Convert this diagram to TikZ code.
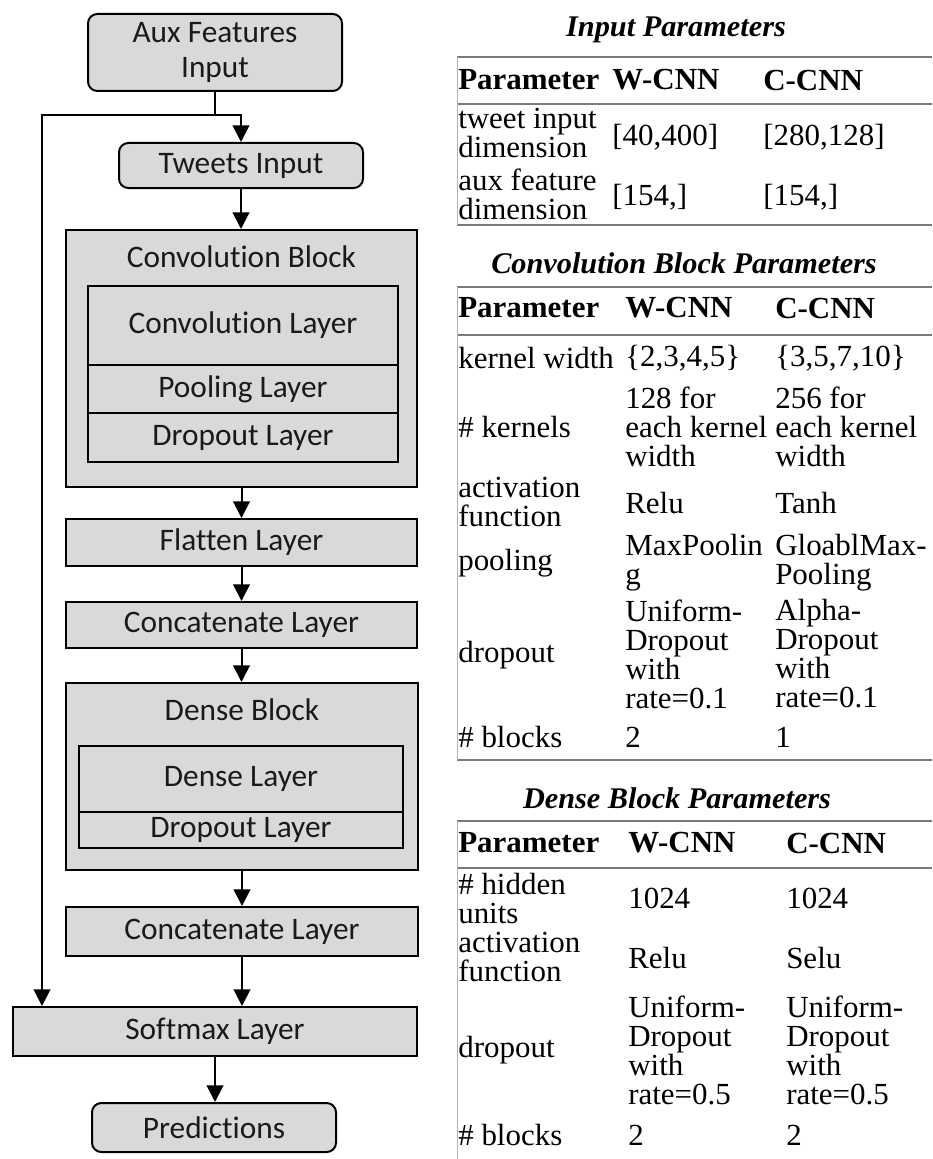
\documentclass[tikz,border=0pt]{standalone}
\usepackage{fontspec}
\setmainfont{Carlito}[Ligatures=NoCommon]
\newfontfamily\tnr[FakeStretch=1.01]{Liberation Serif}
\usetikzlibrary{arrows.meta}
\definecolor{boxgray}{HTML}{D9D9D9}
\definecolor{rulegray}{HTML}{7A7A7A}
\definecolor{bordergray}{HTML}{B4B4B4}
\definecolor{txt}{HTML}{1A1A1A}
\begin{document}
\begin{tikzpicture}[x=0.75pt,y=-0.75pt,
  box/.style={draw=black, line width=1.5pt, fill=boxgray, inner sep=0, text=txt,
    font=\fontsize{23.5}{26.25}\selectfont, align=center},
  rbox/.style={box, rounded corners=7pt},
  lbl/.style={inner sep=0, text=txt, font=\fontsize{23.5}{26}\selectfont},
  arr/.style={line width=1.5pt, -{Triangle[length=12.5pt,width=12.5pt]}},
  ln/.style={line width=1.5pt},
  cell/.style={inner sep=0, anchor=west, align=left, font=\tnr\fontsize{23}{21.75}\selectfont},
  hcell/.style={inner sep=0, anchor=west, font=\tnr\bfseries\fontsize{23}{21.75}\selectfont},
  ttl/.style={inner sep=0, font=\tnr\bfseries\itshape\fontsize{22.5}{24}\selectfont},
  rulel/.style={draw=rulegray, line width=1.6pt},
  vborder/.style={draw=bordergray, line width=0.8pt}
]
\fill[white] (0,0) rectangle (932,1159);
\useasboundingbox (0,0) rectangle (932,1159);

% ---------------- left flow diagram ----------------
\node[rbox, minimum width=190.5pt, minimum height=57.75pt] (aux) at (215,52.5) {Aux Features\\Input};
\node[rbox, minimum width=183pt, minimum height=33.75pt] (tweets) at (241,165.5) {Tweets Input};

\node[box, minimum width=263.25pt, minimum height=192.75pt] (conv) at (241.5,358.5) {};
\node[lbl] (convt) at (241.5,257) {Convolution Block};
\node[box, minimum width=232.5pt, minimum height=59.25pt] (convl) at (243,325.5) {Convolution Layer};
\node[box, minimum width=232.5pt, minimum height=36pt] (pool) at (243,389) {Pooling Layer};
\node[box, minimum width=232.5pt, minimum height=36.75pt] (cdrop) at (243,437.5) {Dropout Layer};

\node[box, minimum width=263.25pt, minimum height=35.25pt] (flat) at (241.5,542.5) {Flatten Layer};
\node[box, minimum width=263.25pt, minimum height=34.5pt] (cat1) at (241.5,625) {Concatenate Layer};

\node[box, minimum width=264pt, minimum height=140.25pt] (dense) at (242,776.5) {};
\node[lbl] (denset) at (242,710) {Dense Block};
\node[box, minimum width=243pt, minimum height=49.5pt] (densel) at (241,779) {Dense Layer};
\node[box, minimum width=243pt, minimum height=27pt] (ddrop) at (241,830) {Dropout Layer};

\node[box, minimum width=264pt, minimum height=36.75pt] (cat2) at (242,931.5) {Concatenate Layer};
\node[box, minimum width=303pt, minimum height=36.75pt] (soft) at (215,1031.5) {Softmax Layer};
\node[rbox, minimum width=183pt, minimum height=36.75pt] (pred) at (214,1127.5) {Predictions};

\coordinate (split) at (215,115);
\coordinate (corner) at (42,115);
\draw[arr] (aux.south) -- (split) -| (tweets.north);
\draw[arr] (split) -- (corner) -- (corner |- soft.north);
\draw[arr] (tweets.south) -- (tweets.south |- conv.north);
\draw[arr] (conv.south) -- (conv.south |- flat.north);
\draw[arr] (flat.south) -- (flat.south |- cat1.north);
\draw[arr] (cat1.south) -- (cat1.south |- dense.north);
\draw[arr] (dense.south) -- (dense.south |- cat2.north);
\draw[arr] (cat2.south) -- (cat2.south |- soft.north);
\draw[arr] (soft.south) -- (soft.south |- pred.north);

% ---------------- Input Parameters table ----------------
\node[ttl] (t1) at (676,30) {Input Parameters};
\draw[rulel] (457,57) -- (932,57);
\draw[rulel] (457,104) -- (932,104);
\draw[rulel] (457,225) -- (932,225);
\draw[vborder] (457.5,57) -- (457.5,225);
\node[hcell] (h1a) at (458,80) {Parameter};
\node[hcell] (h1b) at (612,80) {W-CNN};
\node[hcell] (h1c) at (763,80) {C-CNN};
\node[cell] (r1a) at (458,133) {tweet input\\dimension};
\node[cell] (r1b) at (612,137) {[40,400]};
\node[cell] (r1c) at (763,137) {[280,128]};
\node[cell] (r2a) at (458,194) {aux feature\\dimension};
\node[cell] (r2b) at (612,197) {[154,]};
\node[cell] (r2c) at (763,197) {[154,]};

% ---------------- Convolution Block Parameters table ----------------
\node[ttl] (t2) at (684,263) {Convolution Block Parameters};
\draw[rulel] (457,287) -- (932,287);
\draw[rulel] (457,335) -- (932,335);
\draw[rulel] (457,760) -- (932,760);
\draw[vborder] (457.5,287) -- (457.5,760);
\node[hcell] (h2a) at (458,308) {Parameter};
\node[hcell] (h2b) at (625,308) {W-CNN};
\node[hcell] (h2c) at (775,308) {C-CNN};
\node[cell] (c1a) at (458,358) {kernel width};
\node[cell] (c1b) at (625,358) {\{2,3,4,5\}};
\node[cell] (c1c) at (775,358) {\{3,5,7,10\}};
\node[cell] (c2a) at (458,427) {\# kernels};
\node[cell] (c2b) at (625,427) {128 for\\each kernel\\width};
\node[cell] (c2c) at (775,427) {256 for\\each kernel\\width};
\node[cell] (c3a) at (458,502) {activation\\function};
\node[cell] (c3b) at (625,503) {Relu};
\node[cell] (c3c) at (775,503) {Tanh};
\node[cell] (c4a) at (458,563) {pooling};
\node[cell] (c4b) at (625,563) {MaxPoolin\\g};
\node[cell] (c4c) at (775,563) {GloablMax-\\Pooling};
\node[cell] (c5a) at (458,655) {dropout};
\node[cell] (c5b) at (625,654) {Uniform-\\Dropout\\with\\rate=0.1};
\node[cell] (c5c) at (775,654) {Alpha-\\Dropout\\with\\rate=0.1};
\node[cell] (c6a) at (458,737) {\# blocks};
\node[cell] (c6b) at (625,737) {2};
\node[cell] (c6c) at (775,737) {1};

% ---------------- Dense Block Parameters table ----------------
\node[ttl] (t3) at (677,798) {Dense Block Parameters};
\draw[rulel] (457,821) -- (932,821);
\draw[rulel] (457,868) -- (932,868);
\draw[vborder] (457.5,821) -- (457.5,1159);
\node[hcell] (h3a) at (458,843) {Parameter};
\node[hcell] (h3b) at (628,843) {W-CNN};
\node[hcell] (h3c) at (786,843) {C-CNN};
\node[cell] (d1a) at (458,898) {\# hidden\\units};
\node[cell] (d1b) at (628,898) {1024};
\node[cell] (d1c) at (786,898) {1024};
\node[cell] (d2a) at (458,957) {activation\\function};
\node[cell] (d2b) at (628,958) {Relu};
\node[cell] (d2c) at (786,958) {Selu};
\node[cell] (d3a) at (458,1050) {dropout};
\node[cell] (d3b) at (628,1050) {Uniform-\\Dropout\\with\\rate=0.5};
\node[cell] (d3c) at (786,1050) {Uniform-\\Dropout\\with\\rate=0.5};
\node[cell] (d4a) at (458,1135) {\# blocks};
\node[cell] (d4b) at (628,1135) {2};
\node[cell] (d4c) at (786,1135) {2};
\end{tikzpicture}
\end{document}
